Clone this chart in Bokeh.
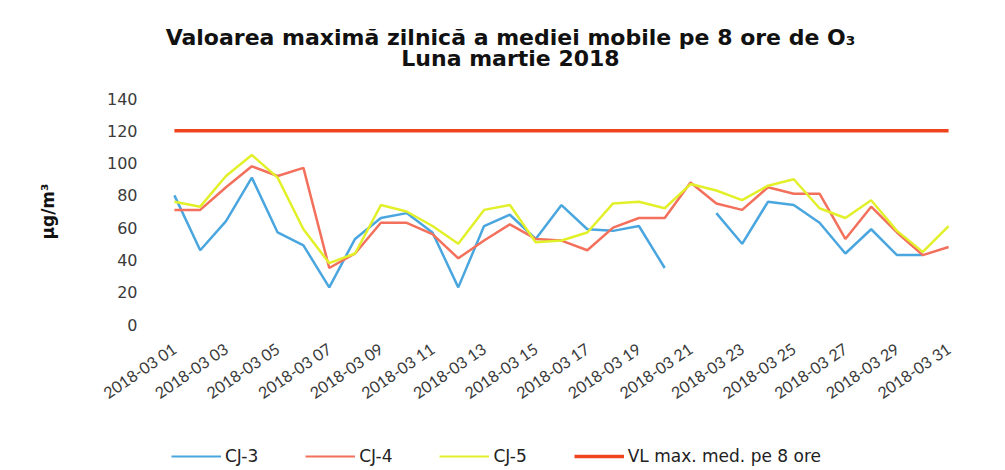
from bokeh.plotting import figure
from bokeh.layouts import column
from bokeh.models import FixedTicker, Legend, LegendItem, Range1d, Label
from bokeh.embed import file_html
from bokeh.resources import INLINE

nan = float("nan")
days = list(range(1, 32))
dates = ["2018-03 %02d" % d for d in days]

cj3 = [80, 46, 64, 91, 57, 49, 23, 53, 66, 69, 57, 23, 61, 68, 53, 74, 59, 58, 61, 35,
       nan, 69, 50, 76, 74, 63, 44, 59, 43, 43, nan]
cj4 = [71, 71, 85, 98, 92, 97, 35, 44, 63, 63, 56, 41, 52, 62, 53, 52, 46, 60, 66, 66,
       88, 75, 71, 85, 81, 81, 53, 73, 57, 43, 48]
cj5 = [76, 73, 92, 105, 91, 59, 38, 44, 74, 70, 61, 50, 71, 74, 51, 52, 57, 75, 76, 72,
       87, 83, 77, 86, 90, 72, 66, 77, 58, 45, 61]
vl = [120] * 31
title1 = "Valoarea maximă zilnică a mediei mobile pe 8 ore de O₃"
title2 = "Luna martie 2018"
series_names = ["CJ-3", "CJ-4", "CJ-5", "VL max. med. pe 8 ore"]
series_values = [cj3, cj4, cj5, vl]
colors = ["#4aa6de", "#f2705c", "#e2f02a", "#f0441e"]

W = 997
FL, FR = 161, 961  # frame left / right in page pixels (frames are aligned in the column)

# ---- title strip ----
pt = figure(width=W, height=88, output_backend="svg", toolbar_location=None,
            x_range=Range1d(FL, FR), y_range=Range1d(0, 88),
            x_axis_location=None, y_axis_location=None, min_border=0)
pt.outline_line_color = None
pt.grid.visible = False
for txt, yy in ((title1, 51), (title2, 30)):
    pt.add_layout(Label(x=510, y=yy, text=txt, text_align="center", text_baseline="middle",
                        text_font="DejaVu Sans", text_font_style="bold",
                        text_font_size="22px", text_color="#111111"))

# ---- main chart ----
p = figure(frame_width=800, frame_height=226, output_backend="svg", toolbar_location=None,
           x_range=Range1d(0.5, 31.5), y_range=Range1d(0, 140),
           min_border_left=FL, min_border_right=W - FR, min_border_top=10, min_border_bottom=108)
p.outline_line_color = None
p.xgrid.grid_line_color = None
p.ygrid.grid_line_color = None

p.line(days, vl, line_color=colors[3], line_width=3.5)
p.line(days, cj3, line_color=colors[0], line_width=2.5)
p.line(days, cj4, line_color=colors[1], line_width=2.5)
p.line(days, cj5, line_color=colors[2], line_width=2.5)

p.xaxis.ticker = FixedTicker(ticks=days[::2])
p.xaxis.major_label_overrides = {d: dates[d - 1] for d in days[::2]}
p.xaxis.major_label_orientation = 0.6
p.yaxis.ticker = FixedTicker(ticks=[0, 20, 40, 60, 80, 100, 120, 140])
for ax in (p.xaxis, p.yaxis):
    ax.axis_line_color = None
    ax.major_tick_line_color = None
    ax.minor_tick_line_color = None
    ax.major_label_text_color = "#3a3a3a"
p.xaxis.major_label_text_font = "Lato"
p.xaxis.major_label_text_font_size = "16px"
p.yaxis.major_label_text_font = "DejaVu Sans"
p.yaxis.major_label_text_font_size = "16px"
p.yaxis.major_label_standoff = 18
p.xaxis.major_label_standoff = 16
p.yaxis.axis_label = "µg/m³"
p.yaxis.axis_label_text_font = "DejaVu Sans"
p.yaxis.axis_label_text_font_style = "bold"
p.yaxis.axis_label_text_font_size = "17px"
p.yaxis.axis_label_text_color = "#111111"
p.yaxis.axis_label_standoff = 46

# ---- legend strip (series drawn out of view; only the legend keys show) ----
pl = figure(width=W, height=38, output_backend="svg", toolbar_location=None,
            x_range=Range1d(FL, FR), y_range=Range1d(0, 1),
            x_axis_location=None, y_axis_location=None, min_border=0)
pl.outline_line_color = None
pl.grid.visible = False
items = []
for name, vals, col in zip(series_names, series_values, colors):
    r = pl.line(days, vals, line_color=col, line_width=3.5 if name.startswith("VL") else 2)
    items.append(LegendItem(label=name, renderers=[r]))
legend = Legend(items=items, orientation="horizontal", border_line_color=None,
                background_fill_alpha=0,
                label_text_font="DejaVu Sans", label_text_font_size="17px",
                label_text_color="#222222", glyph_width=50, glyph_height=20, spacing=47,
                label_standoff=4, location=(10, 4), margin=0, padding=4)
pl.add_layout(legend, "center")

layout = column(pt, p, pl, spacing=0)
open("out.html", "w").write(file_html(layout, INLINE))
